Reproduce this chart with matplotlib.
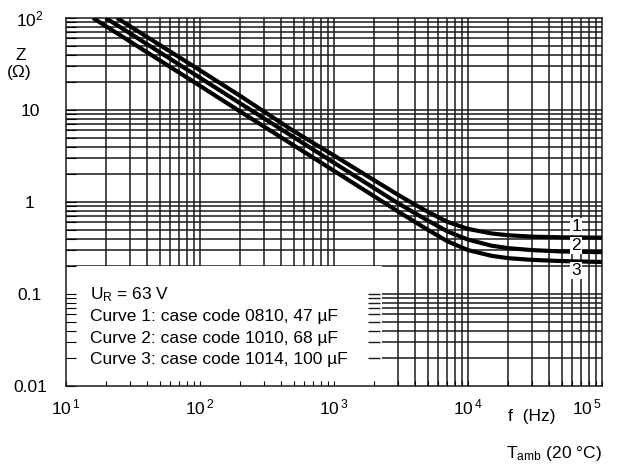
import numpy as np
import matplotlib
matplotlib.use("Agg")
import matplotlib.pyplot as plt
from matplotlib.ticker import FixedLocator, NullFormatter, FixedFormatter
from matplotlib.patches import Rectangle

plt.rcParams['font.family'] = ['Liberation Sans', 'DejaVu Sans']
plt.rcParams['mathtext.default'] = 'regular'
fs = 12.5
plt.rcParams['font.size'] = fs

# impedance curves
f1 = [24, 50, 100, 200, 500, 1000, 2000, 3000, 4000, 5000, 7000, 10000, 15000, 20000, 30000, 50000, 100000]
z1 = [100, 51, 27, 14.2, 5.9, 3.2, 1.72, 1.20, 0.94, 0.785, 0.61, 0.51, 0.455, 0.435, 0.42, 0.413, 0.41]

f2 = [19.8, 50, 100, 200, 500, 1000, 2000, 3000, 4000, 5000, 7000, 10000, 15000, 20000, 30000, 50000, 100000]
z2 = [100, 42.5, 22.4, 11.8, 5.07, 2.67, 1.41, 0.97, 0.76, 0.63, 0.48, 0.39, 0.335, 0.315, 0.30, 0.29, 0.285]

f3 = [15.9, 50, 100, 200, 500, 1000, 2000, 3000, 4000, 5000, 7000, 10000, 15000, 20000, 30000, 50000, 100000]
z3 = [100, 34.7, 18.3, 9.6, 4.13, 2.18, 1.15, 0.79, 0.61, 0.50, 0.375, 0.30, 0.26, 0.245, 0.235, 0.228, 0.223]

curve_labels = ['1', '2', '3']
label_f = [64000, 64000, 64000]
label_z = [0.54, 0.34, 0.182]

note_lines = ['U$_{R}$ = 63 V',
              'Curve 1: case code 0810, 47 \u00b5F',
              'Curve 2: case code 1010, 68 \u00b5F',
              'Curve 3: case code 1014, 100 \u00b5F']

yticks = [0.01, 0.1, 1, 10, 100]
yticklabels = ['0.01', '0.1', '1', '10', '10$^{2}$']
xticks = [10, 100, 1000, 10000, 100000]
xticklabels = ['10$^{\\,1}$', '10$^{\\,2}$', '10$^{\\,3}$', '10$^{\\,4}$', '10$^{\\,5}$']

fig = plt.figure(figsize=(6.18, 4.65), dpi=100)
ax = fig.add_axes([66 / 618, 79 / 465, 536 / 618, 368 / 465])
ax.set_xscale('log')
ax.set_yscale('log')
ax.set_xlim(10, 1e5)
ax.set_ylim(0.01, 100)

# grid lines drawn by hand so the note box can sit between grid and ticks
minor_x = [m * 10.0 ** d for d in range(1, 5) for m in range(1, 10)]
minor_y = [m * 10.0 ** d for d in range(-2, 2) for m in range(1, 10)]
for v in minor_x[1:]:
    ax.axvline(v, color='#1a1a1a', lw=1.1, zorder=0.4)
for v in minor_y[1:]:
    ax.axhline(v, color='#1a1a1a', lw=1.1, zorder=0.4)

ax.add_patch(Rectangle((10, 0.01), 2300 - 10, 0.2 - 0.01, facecolor='white',
                       edgecolor='none', zorder=1))
ax.plot([2000] * 9, minor_y[1:10], ls='none', marker='_', markersize=9,
        color='#1a1a1a', mew=1.0, zorder=1.5)

for f, z in [(f1, z1), (f2, z2), (f3, z3)]:
    ax.plot(f, z, color='black', lw=3.0, solid_capstyle='butt',
            solid_joinstyle='round', zorder=3)

for t, fx, zy in zip(curve_labels, label_f, label_z):
    ax.text(fx, zy, t, ha='center', va='center', fontsize=fs, zorder=4,
            bbox=dict(facecolor='white', edgecolor='none', pad=0.8))

ys = [0.247, 0.190, 0.130, 0.073]
for t, yy in zip(note_lines, ys):
    ax.text(0.045, yy, t, transform=ax.transAxes, ha='left', va='center',
            fontsize=fs, zorder=4)

ax.xaxis.set_major_locator(FixedLocator(xticks))
ax.xaxis.set_major_formatter(FixedFormatter(xticklabels))
ax.xaxis.set_minor_locator(FixedLocator(minor_x))
ax.xaxis.set_minor_formatter(NullFormatter())
ax.yaxis.set_major_locator(FixedLocator(yticks))
ax.yaxis.set_major_formatter(FixedFormatter(yticklabels))
ax.yaxis.set_minor_locator(FixedLocator(minor_y))
ax.yaxis.set_minor_formatter(NullFormatter())

ax.tick_params(axis='x', which='both', direction='in', length=3.6, width=0.8,
               pad=8, labelsize=fs)
ax.tick_params(axis='y', which='both', direction='in', length=7, width=0.8,
               pad=26, labelsize=fs)
for lab in ax.get_yticklabels():
    lab.set_horizontalalignment('center')
xl = ax.get_xticklabels()
xl[-1].set_horizontalalignment('right')

for s in ax.spines.values():
    s.set_linewidth(1.1)
    s.set_color('#1a1a1a')

fig.text(21 / 618, 1 - 55 / 465, 'Z', ha='center', va='center', fontsize=fs)
fig.text(19 / 618, 1 - 73 / 465, '(\u03a9)', ha='center', va='center', fontsize=fs)
fig.text(532 / 618, 1 - 417 / 465, 'f  (Hz)', ha='center', va='center', fontsize=fs)
fig.text(554 / 618, 1 - 453 / 465, 'T$_{amb}$ (20 \u00b0C)', ha='center', va='center', fontsize=fs)

fig.savefig('out.png', dpi=100)
